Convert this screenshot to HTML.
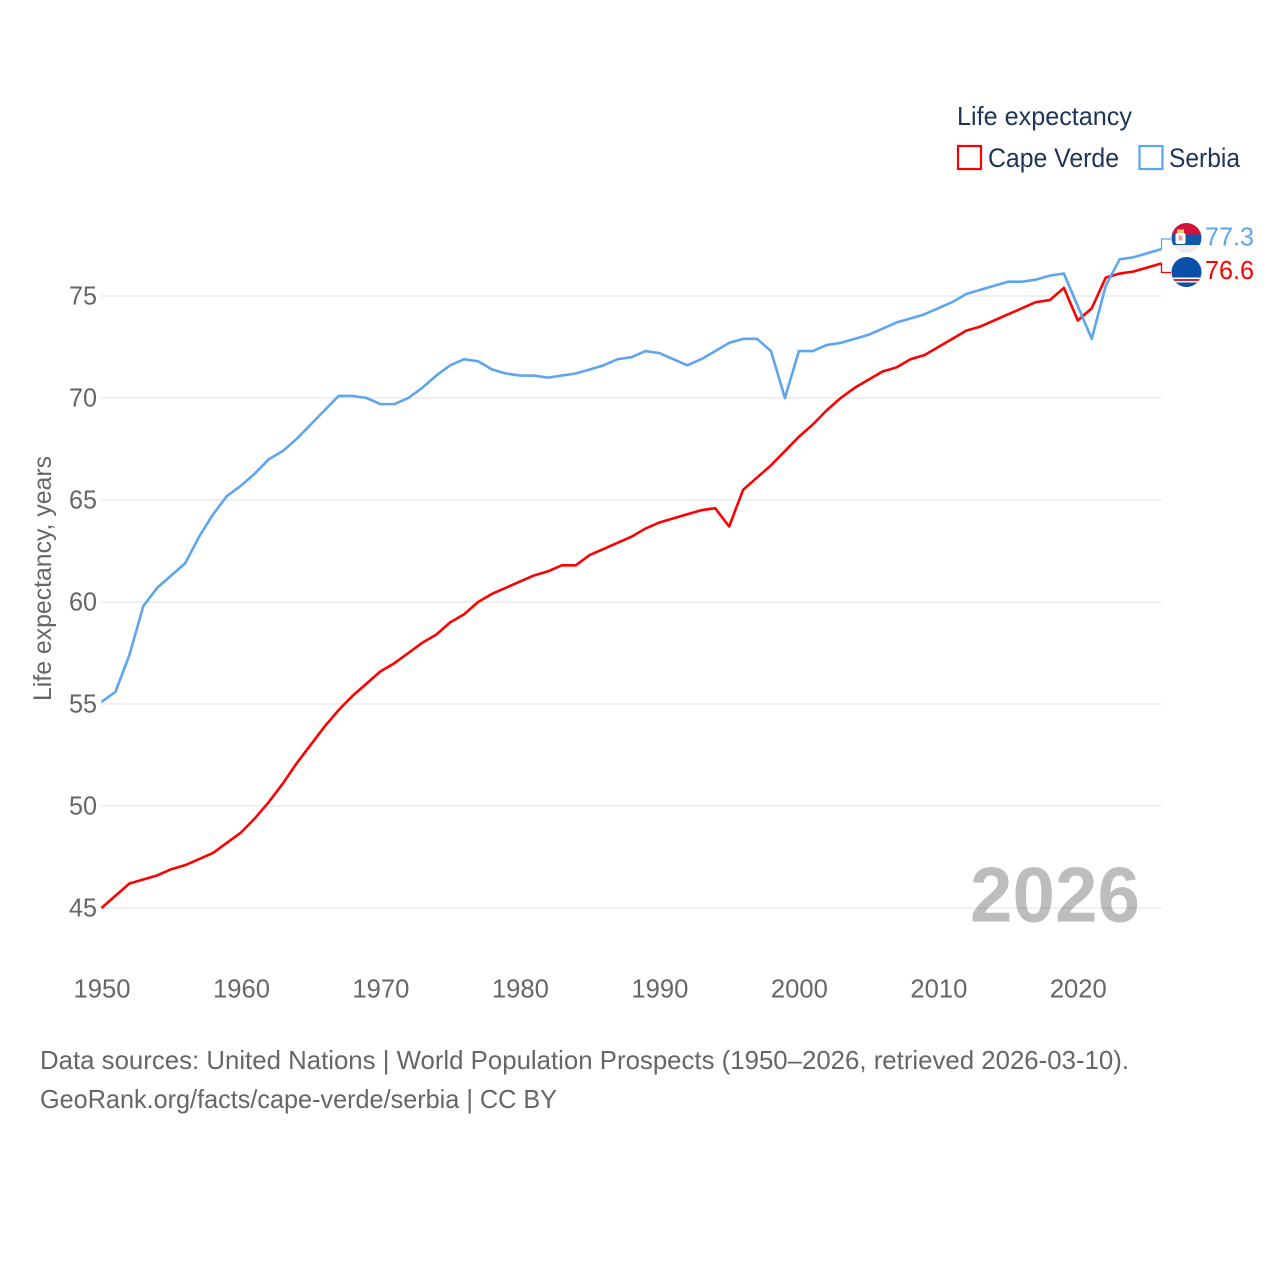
<!DOCTYPE html>
<html lang="en">
<head>
<meta charset="utf-8">
<title>Life expectancy: Cape Verde and Serbia</title>
<style>
html,body{margin:0;padding:0;background:#fff;}
svg{display:block;font-family:"Liberation Sans",sans-serif;}
</style>
</head>
<body>
<svg id="chart" xmlns="http://www.w3.org/2000/svg" width="1280" height="1280" viewBox="0 0 1280 1280">
  <defs>
    <clipPath id="clip-serbia"><circle cx="1186.5" cy="238" r="15"></circle></clipPath>
    <clipPath id="clip-cape"><circle cx="1186.5" cy="272" r="15"></circle></clipPath>
  </defs>
  <rect x="0" y="0" width="1280" height="1280" fill="#fff"></rect>

  <text x="957" y="125" font-size="26" fill="#1d3557" textLength="175" lengthAdjust="spacingAndGlyphs">Life expectancy</text>
  <g>
    <rect x="958" y="146" width="23" height="23" fill="#fff" stroke="#ff0000" stroke-width="2.2"></rect>
    <text x="988" y="167" font-size="27" fill="#1d3557" textLength="131" lengthAdjust="spacingAndGlyphs">Cape Verde</text>
  </g>
  <g>
    <rect x="1139.5" y="146" width="23" height="23" fill="#fff" stroke="#5da5ee" stroke-width="2.2"></rect>
    <text x="1169" y="167" font-size="27" fill="#1d3557" textLength="71" lengthAdjust="spacingAndGlyphs">Serbia</text>
  </g>

  <g id="grid"></g>
  <g id="yticks"></g>
  <g id="xticks"></g>
  <text transform="translate(51,701) rotate(-90)" font-size="25" fill="#666" textLength="245" lengthAdjust="spacingAndGlyphs">Life expectancy, years</text>

  <text x="970" y="921.5" font-size="78" font-weight="700" fill="#000" fill-opacity="0.26" textLength="170" lengthAdjust="spacingAndGlyphs">2026</text>

  <g id="series"></g>

  <g clip-path="url(#clip-serbia)">
    <rect x="1171" y="223" width="31" height="11.5" fill="#d3123c"></rect>
    <rect x="1171" y="234.5" width="31" height="10.5" fill="#0c5aa8"></rect>
    <rect x="1171" y="245" width="31" height="8" fill="#eeeeee"></rect>
    <rect x="1175.5" y="233" width="10" height="11" rx="2" fill="#fff"></rect>
    <rect x="1177" y="229.5" width="7" height="3.5" fill="#f0c878"></rect>
    <rect x="1178.5" y="235.5" width="4" height="5" fill="#e8a0a8"></rect>
  </g>
  <g clip-path="url(#clip-cape)">
    <rect x="1171" y="257" width="31" height="30" fill="#0a50a8"></rect>
    <rect x="1171" y="277.5" width="31" height="5" fill="#fff"></rect>
    <rect x="1171" y="279" width="31" height="2" fill="#d81e2c"></rect>
  </g>

  <text x="40" y="1069" font-size="26" fill="#666" textLength="1089" lengthAdjust="spacingAndGlyphs">Data sources: United Nations | World Population Prospects (1950–2026, retrieved 2026-03-10).</text>
  <text x="40" y="1108" font-size="26" fill="#666" textLength="517" lengthAdjust="spacingAndGlyphs">GeoRank.org/facts/cape-verde/serbia | CC BY</text>
</svg>
<script>
const years = [];
const firstYear = 1950;
const capeVerde = [45.0,45.6,46.2,46.4,46.6,46.9,47.1,47.4,47.7,48.2,48.7,49.4,50.2,51.1,52.1,53.0,53.9,54.7,55.4,56.0,56.6,57.0,57.5,58.0,58.4,59.0,59.4,60.0,60.4,60.7,61.0,61.3,61.5,61.8,61.8,62.3,62.6,62.9,63.2,63.6,63.9,64.1,64.3,64.5,64.6,63.7,65.5,66.1,66.7,67.4,68.1,68.7,69.4,70.0,70.5,70.9,71.3,71.5,71.9,72.1,72.5,72.9,73.3,73.5,73.8,74.1,74.4,74.7,74.8,75.4,73.8,74.4,75.9,76.1,76.2,76.4,76.6];
const serbia = [55.1,55.6,57.4,59.8,60.7,61.3,61.9,63.2,64.3,65.2,65.7,66.3,67.0,67.4,68.0,68.7,69.4,70.1,70.1,70.0,69.7,69.7,70.0,70.5,71.1,71.6,71.9,71.8,71.4,71.2,71.1,71.1,71.0,71.1,71.2,71.4,71.6,71.9,72.0,72.3,72.2,71.9,71.6,71.9,72.3,72.7,72.9,72.9,72.3,70.0,72.3,72.3,72.6,72.7,72.9,73.1,73.4,73.7,73.9,74.1,74.4,74.7,75.1,75.3,75.5,75.7,75.7,75.8,76.0,76.1,74.5,72.9,75.5,76.8,76.9,77.1,77.3];
const yTickValues = [45,50,55,60,65,70,75];
const xTickValues = [1950,1960,1970,1980,1990,2000,2010,2020];

const NS = 'http://www.w3.org/2000/svg';
const plotLeft = 101.5, plotRight = 1161.5, lastYear = 2026;
const xScale = yr => plotLeft + (yr - firstYear) * (plotRight - plotLeft) / (lastYear - firstYear);
const yScale = v => 296 + (75 - v) * 20.4;

const gridGroup = document.getElementById('grid');
const yGroup = document.getElementById('yticks');
const xGroup = document.getElementById('xticks');
const seriesGroup = document.getElementById('series');

yTickValues.forEach(v => {
  const line = document.createElementNS(NS, 'line');
  
  
  line.setAttribute('x1', plotLeft - 1);
  line.setAttribute('x2', plotRight);
  line.setAttribute('y1', yScale(v));
  line.setAttribute('y2', yScale(v));
  line.setAttribute('stroke', '#eeeeee');
  line.setAttribute('stroke-width', '1.8');
  gridGroup.appendChild(line);

  const label = document.createElementNS(NS, 'text');
  
  
  label.setAttribute('x', 97);
  label.setAttribute('y', yScale(v) + 8.5);
  label.setAttribute('text-anchor', 'end');
  label.setAttribute('font-size', '25.5');
  label.setAttribute('fill', '#666');
  label.setAttribute('textLength', '28');
  label.setAttribute('lengthAdjust', 'spacingAndGlyphs');
  label.textContent = v;
  yGroup.appendChild(label);
});

xTickValues.forEach(yr => {
  const label = document.createElementNS(NS, 'text');
  
  
  label.setAttribute('x', xScale(yr) + 0.5);
  label.setAttribute('y', 997.5);
  label.setAttribute('text-anchor', 'middle');
  label.setAttribute('font-size', '25.5');
  label.setAttribute('fill', '#666');
  label.setAttribute('textLength', '57');
  label.setAttribute('lengthAdjust', 'spacingAndGlyphs');
  label.textContent = yr;
  xGroup.appendChild(label);
});

function linePath(values) {
  return values.map((v, i) => (i ? 'L' : 'M') + xScale(firstYear + i).toFixed(2) + ' ' + yScale(v).toFixed(2)).join(' ');
}

function leaderPath(values, labelY) {
  const last = values[values.length - 1];
  return 'M' + xScale(lastYear) + ' ' + yScale(last).toFixed(2) + ' L' + xScale(lastYear) + ' ' + labelY + ' L1171 ' + labelY;
}

const capeLine = document.createElementNS(NS, 'path');


capeLine.setAttribute('d', linePath(capeVerde));
capeLine.setAttribute('fill', 'none');
capeLine.setAttribute('stroke', '#ff0000');
capeLine.setAttribute('stroke-width', '2.6');
capeLine.setAttribute('stroke-linejoin', 'round');
seriesGroup.appendChild(capeLine);

const serbiaLine = document.createElementNS(NS, 'path');


serbiaLine.setAttribute('d', linePath(serbia));
serbiaLine.setAttribute('fill', 'none');
serbiaLine.setAttribute('stroke', '#5da5ee');
serbiaLine.setAttribute('stroke-width', '2.6');
serbiaLine.setAttribute('stroke-linejoin', 'round');
seriesGroup.appendChild(serbiaLine);

const capeLeader = document.createElementNS(NS, 'path');


capeLeader.setAttribute('d', leaderPath(capeVerde, 272.5));
capeLeader.setAttribute('fill', 'none');
capeLeader.setAttribute('stroke', '#ff0000');
capeLeader.setAttribute('stroke-width', '1.3');
seriesGroup.appendChild(capeLeader);

const serbiaLeader = document.createElementNS(NS, 'path');


serbiaLeader.setAttribute('d', leaderPath(serbia, 239));
serbiaLeader.setAttribute('fill', 'none');
serbiaLeader.setAttribute('stroke', '#5da5ee');
serbiaLeader.setAttribute('stroke-width', '1.3');
seriesGroup.appendChild(serbiaLeader);

const serbiaValue = document.createElementNS(NS, 'text');


serbiaValue.setAttribute('x', 1205);
serbiaValue.setAttribute('y', 245.5);
serbiaValue.setAttribute('font-size', '26');
serbiaValue.setAttribute('fill', '#5da5ee');
serbiaValue.setAttribute('textLength', '49');
serbiaValue.setAttribute('lengthAdjust', 'spacingAndGlyphs');
serbiaValue.textContent = serbia[serbia.length - 1].toFixed(1);
seriesGroup.appendChild(serbiaValue);

const capeValue = document.createElementNS(NS, 'text');


capeValue.setAttribute('x', 1205);
capeValue.setAttribute('y', 279);
capeValue.setAttribute('font-size', '26');
capeValue.setAttribute('fill', '#ff0000');
capeValue.setAttribute('textLength', '49');
capeValue.setAttribute('lengthAdjust', 'spacingAndGlyphs');
capeValue.textContent = capeVerde[capeVerde.length - 1].toFixed(1);
seriesGroup.appendChild(capeValue);
</script>
</body>
</html>
